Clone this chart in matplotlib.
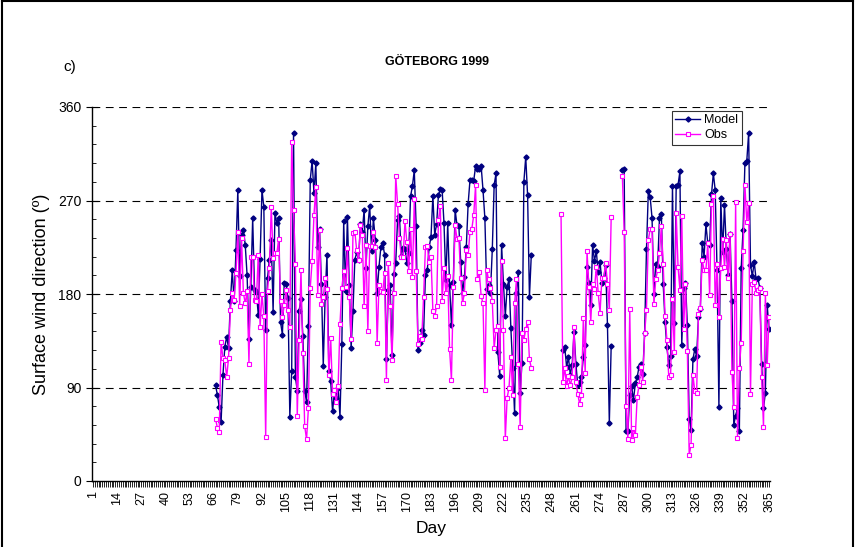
import numpy as np
import matplotlib
matplotlib.use("Agg")
import matplotlib.pyplot as plt
from matplotlib.ticker import FixedLocator, MultipleLocator
from matplotlib.lines import Line2D

plt.rcParams['font.family'] = ['Liberation Sans', 'DejaVu Sans']

nan = np.nan

# Surface wind direction (deg), Göteborg 1999, days 67..237
model_spring = [
    92, 83, 71, 57, 102, 129, 139, 128, 173, 203, 173, 222, 280, 197, 237, 242, 227, 198, 137, 187, 253, 184, 182, 160, 214,
    280, 264, 145, 195, 213, 232, 163, 258, 248, 253, 153, 141, 191, 190, 176, 62, 106, 335, 100, 87,
    164, 175, 140, 87, 76, 149, 290, 308, 277, 306, 225, 243,
    190, 111, 177, 218, 106, 96, 67, 85, 80, 90, 62, 132, 250, 183, 254, 189, 128, 164, 213, 220, 213, 247, 240, 261,
    205, 245, 265, 221, 253, 232, 181,
    206, 225, 229, 218, 117, 184, 189, 121, 199, 210, 251, 255, 217, 224, 223, 210, 219, 274, 284, 299, 245, 126, 133,
    145, 141, 198, 203, 225, 235, 274, 237,
    247, 275, 281, 280, 248, 193, 248, 189, 150, 192, 261, 246, 245, 211, 181, 196, 225, 267, 290, 290, 289, 303, 300,
    300, 303, 280, 253, 185, 189, 181, 223,
    285, 296, 124, 101, 227, 190, 159, 187, 194, 147, 109, 65, 181, 201, 85, 114, 288, 312, 275, 177, 218,
]
obs_spring = [
    60, 51, 47, 134, 118, 116, 100, 118, 165, 181, 174, 200, 240, 168, 234, 181, 171, 183, 113, 216, 216, 174, 173, 218, 148,
    180, 159, 42, 183, 205, 264, 215, 219, 219, 233, 173, 158, 169, 184, 165, 148, 326, 261, 209, 63, 136, 203, 123, 53,
    40, 70, 186, 212, 256, 283, 179, 242,
    170, 177, 195, 185, 102, 138, 84, 88, 76, 91, 151, 186, 202, 187, 224, 177, 137, 239, 240, 222, 213, 246, 237, 168,
    227, 144, 226, 226, 240, 225, 133,
    189, 183, 182, 200, 97, 210, 168, 116, 181, 294, 267, 234, 216, 216, 250, 230, 202, 243, 196, 271, 202, 132, 140,
    137, 177, 225, 226, 211, 216, 164, 159,
    168, 251, 265, 173, 205, 181, 197, 127, 97, 187, 246, 233, 234, 195, 171, 181, 222, 218, 240, 243, 256, 285, 194,
    201, 178, 171, 88, 203, 194, 186, 173,
    128, 145, 149, 110, 212, 145, 41, 80, 90, 119, 83, 171, 194, 113, 52, 142, 136, 146, 153, 117, 109,
]

# days 253..365
model_autumn = [
    nan,
    126, 129, 110, 119, 102, 112, 143, 113, 92, 95, 100, 119, 131, 206, 191, 169, 227, 212, 221, 201, 211, 191, 195,
    208, 150, 56, 130,
    nan, nan, nan, nan, nan,
    299, 300, 48, 48, 83, 91, 78, 94, 100, 110, 113, 103, 142, 223, 279, 273, 253, 180, 209, 206, 253, 257, 190, 153,
    129, 112,
    120, 284, 152, 284, 285, 298, 131, 186, 191, 150, 60, 49, 117, 127, 120, 158, 166, 229, 216, 247, 229, 227, 276,
    296, 280, 203, 71,
    272, 220, 266, 223, 198, 238, 173, 54, 63, 70, 48, 205, 242, 306, 308, 335, 208, 197, 211, 194, 195, 186, 113,
    70, 85, 169, 146,
]
obs_autumn = [
    257, 95, 109, 91, 101, 92, 100, 148, 95, 84, 74, 83, 157, 104, 221, 187, 153, 190, 185, 206, 181, 162, 195, 195,
    210, 190, 165, 254,
    nan, nan, nan, nan, nan,
    294, 240, 72, 40, 166, 39, 51, 44, 81, 92, 110, 95, 142, 165, 232, 243, 243, 170, 194, 203, 219, 245, 209, 159, 136,
    100, 102, 175, 124, 258, 206, 184, 255, 146, 190, 125, 25, 35, 102, 87, 85, 161, 167, 213, 203, 203, 229, 179,
    267, 274, 169, 209, 158,
    205, 233, 206, 232, 195, 238, 105, 71, 269, 41, 109, 133, 221, 285, 249, 268, 84, 190, 192, 181, 184, 186, 100,
    52, 181, 112, 158,
]

days_spring = np.arange(67, 67 + len(model_spring))
days_autumn = np.arange(253, 253 + len(model_autumn))
gap = np.arange(days_spring[-1] + 1, 253)

days = np.concatenate([days_spring, gap, days_autumn])
model = np.concatenate([model_spring, np.full(len(gap), nan), model_autumn])
obs = np.concatenate([obs_spring, np.full(len(gap), nan), obs_autumn])

day_labels = list(range(1, 366, 13))
yticks = [0, 90, 180, 270, 360]

fig = plt.figure(figsize=(8.55, 5.47), dpi=100)
ax = fig.add_axes([92 / 855, 66 / 547, 678 / 855, 374 / 547])

for y in yticks[1:]:
    ax.axhline(y, color='black', lw=0.8, dashes=(7, 5), zorder=1)

ax.plot(days, model, color='#000080', lw=1.0, marker='D', ms=2.6,
        mfc='#000080', mec='#000080', label='Model', zorder=3)
ax.plot(days, obs, color='#FF00FF', lw=1.0, marker='s', ms=3.2,
        mfc='white', mec='#FF00FF', mew=0.8, label='Obs', zorder=4)

ax.set_xlim(0.5, 365.5)
ax.set_ylim(0, 360)

ax.xaxis.set_major_locator(FixedLocator(day_labels))
ax.set_xticklabels([str(d) for d in day_labels], rotation=90, fontsize=9)
ax.xaxis.set_minor_locator(MultipleLocator(1))
ax.tick_params(axis='x', which='both', direction='out', length=4, width=0.6)

ax.set_yticks(yticks)
ax.set_yticklabels([str(v) for v in yticks], fontsize=10)
ax.yaxis.set_minor_locator(MultipleLocator(18))
ax.tick_params(axis='y', which='major', direction='inout', length=8, width=0.8)
ax.tick_params(axis='y', which='minor', direction='in', length=3, width=0.6)

for s in ['top', 'right']:
    ax.spines[s].set_visible(False)
for s in ['left', 'bottom']:
    ax.spines[s].set_linewidth(1.0)

ax.set_xlabel('Day', fontsize=12.5, labelpad=6)
ax.set_ylabel('Surface wind direction (º)', fontsize=13, labelpad=6)

fig.text(437 / 855, 1 - 62 / 547, 'GÖTEBORG 1999', fontsize=9, fontweight='bold',
         ha='center', va='center')
fig.text(70 / 855, 1 - 67 / 547, 'c)', fontsize=11, ha='center', va='center')

leg = ax.legend(loc='upper left', bbox_to_anchor=(0.855, 0.99), fontsize=9,
                frameon=True, fancybox=False, handlelength=2.0, handletextpad=0.3,
                borderpad=0.3, labelspacing=0.2, borderaxespad=0)
leg.get_frame().set_edgecolor('black')
leg.get_frame().set_linewidth(0.8)

# panel frame
for xs, ys in [([0.002, 0.002], [0, 0.998]), ([0.998, 0.998], [0, 0.998]), ([0.002, 0.998], [0.998, 0.998])]:
    fig.add_artist(Line2D(xs, ys, transform=fig.transFigure, color='black', lw=1.5))

fig.savefig('out.png', dpi=100)
